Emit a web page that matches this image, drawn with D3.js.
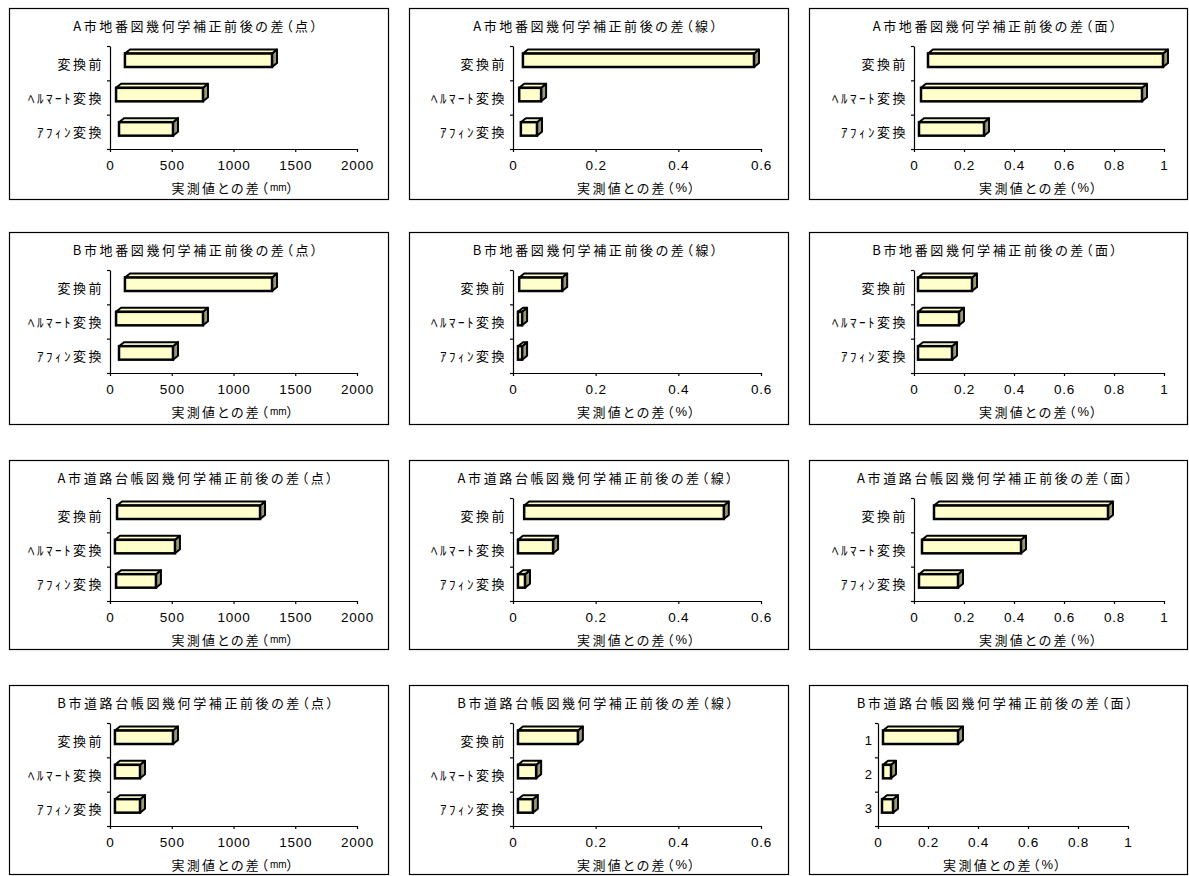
<!DOCTYPE html>
<html>
<head>
<meta charset="utf-8">
<script src="https://cdn.jsdelivr.net/npm/d3@7"></script>
<style>
  body { margin: 0; background: #fff; }
  svg text { fill: #000; }
</style>
</head>
<body>
<script>
// panel titles, row by row
const titles = [
  "A市地番図幾何学補正前後の差（点）", "A市地番図幾何学補正前後の差（線）", "A市地番図幾何学補正前後の差（面）",
  "B市地番図幾何学補正前後の差（点）", "B市地番図幾何学補正前後の差（線）", "B市地番図幾何学補正前後の差（面）",
  "A市道路台帳図幾何学補正前後の差（点）", "A市道路台帳図幾何学補正前後の差（線）", "A市道路台帳図幾何学補正前後の差（面）",
  "B市道路台帳図幾何学補正前後の差（点）", "B市道路台帳図幾何学補正前後の差（線）", "B市道路台帳図幾何学補正前後の差（面）"
];
const catLabels = ["変換前", "ﾍﾙﾏｰﾄ変換", "ｱﾌｨﾝ変換"];
const catNumbers = ["1", "2", "3"];
const axisTitleMm = ["実測値との差（", "mm", "）"];
const axisTitlePct = ["実測値との差（", "%", "）"];
const ticksPoint = [0, 500, 1000, 1500, 2000];
const ticksLine = [0, 0.2, 0.4, 0.6];
const ticksArea = [0, 0.2, 0.4, 0.6, 0.8, 1];

// where each 3D bar's front face starts and ends (as drawn)
const barStart = [
  [121, 49, 73], [0.024, 0.015, 0.019], [0.056, 0.028, 0.02],
  [121, 49, 73], [0.015, 0.012, 0.012], [0.016, 0.016, 0.016],
  [57, 40, 49], [0.027, 0.012, 0.012], [0.08, 0.032, 0.02],
  [40, 40, 40], [0.012, 0.012, 0.012], [0.02, 0.02, 0.016]
];
const barEnd = [
  [1312, 753, 510], [0.583, 0.068, 0.058], [0.996, 0.912, 0.28],
  [1312, 753, 510], [0.119, 0.022, 0.022], [0.232, 0.18, 0.152],
  [1215, 526, 372], [0.51, 0.097, 0.029], [0.776, 0.428, 0.176],
  [510, 243, 243], [0.157, 0.056, 0.048], [0.32, 0.052, 0.06]
];

var jp = "'Noto Sans CJK JP', sans-serif";
var num = "'Liberation Sans', Arial, sans-serif";

var colX = [9, 409, 809], colW = [379, 379, 378];
var rowY = [8, 232, 460, 685], rowH = [191, 192, 189, 189];
var axisLeft = [101, 104, 105], plotW = [247, 248, 250];
var colTicks = [ticksPoint, ticksLine, ticksArea];
var dx = 5, dy = 4;

var svg = d3.select("body").append("svg").attr("width", 1189).attr("height", 876);

titles.forEach((title, i) => {
  var r = Math.floor(i / 3), c = i % 3;
  var last = i === 11;
  var g = svg.append("g").attr("transform", `translate(${colX[c]},${rowY[r]})`);

  g.append("rect")
    .attr("x", 0.5).attr("y", 0.5)
    .attr("width", colW[c]).attr("height", rowH[r])
    .attr("fill", "#fff").attr("stroke", "#000").attr("stroke-width", 1.2);

  g.append("text")
    .attr("x", colW[c] / 2 - 2).attr("y", 17)
    .attr("text-anchor", "middle").attr("dominant-baseline", "central")
    .style("font-family", jp).style("font-size", "13px").style("letter-spacing", "2.6px")
    .style("font-feature-settings", "'palt'")
    .text(title);

  var left = last ? 69 : axisLeft[c];
  var top = 38, bottom = 141;
  var x = d3.scaleLinear().domain([0, d3.max(colTicks[c])]).range([left, left + plotW[c]]);
  var y = d3.scaleBand().domain([0, 1, 2]).range([top, bottom]);
  var yb = d3.scaleLinear().domain([0, 3]).range([top, bottom]);

  var xa = g.append("g").attr("transform", `translate(0,${bottom})`)
    .call(d3.axisBottom(x).tickValues(colTicks[c]).tickSize(3).tickSizeOuter(0).tickPadding(8).tickFormat(d => String(d)));
  xa.selectAll("text").style("font-family", num).style("font-size", "13.5px").style("letter-spacing", "0.8px");

  g.append("g").attr("transform", `translate(${left},0)`)
    .call(d3.axisLeft(yb).tickValues([0, 1, 2, 3]).tickSize(3).tickSizeOuter(0).tickFormat(""));
  g.selectAll(".domain, .tick line").attr("stroke", "#000").attr("stroke-width", 1.2);

  var labels = last ? catNumbers : catLabels;
  g.selectAll(".cat").data(labels).enter().append("text")
    .attr("class", "cat")
    .attr("x", left - 6)
    .attr("y", (d, k) => y(k) + y.bandwidth() / 2)
    .attr("text-anchor", "end").attr("dominant-baseline", "central")
    .style("font-family", last ? num : jp).style("font-size", "13px")
    .style("letter-spacing", last ? "0px" : "2.5px")
    .text(d => d);

  var parts = c === 0 ? axisTitleMm : axisTitlePct;
  var at = g.append("text")
    .attr("x", left + plotW[c] / 2).attr("y", 179)
    .attr("text-anchor", "middle").attr("dominant-baseline", "central")
    .style("font-family", jp).style("font-size", "13px").style("letter-spacing", "2.3px")
    .style("font-feature-settings", "'palt'");
  at.append("tspan").text(parts[0]);
  at.append("tspan")
    .style("font-family", num).style("font-size", c === 0 ? "10px" : "13px")
    .style("letter-spacing", c === 0 ? "0px" : "1px")
    .text(parts[1]);
  at.append("tspan").text(parts[2]);

  var bars = barStart[i].map((s, k) => ({ s: s, e: barEnd[i][k], k: k }));
  var bg = g.selectAll(".bar").data(bars).enter().append("g").attr("class", "bar");
  var fy = d => y(d.k) + 7.5;
  var fh = 13.5;

  bg.append("polygon")
    .attr("points", d => {
      var x1 = x(d.e), y0 = fy(d), y1 = y0 + fh;
      return [[x1, y0], [x1 + dx, y0 - dy], [x1 + dx, y1 - dy], [x1, y1]].join(" ");
    })
    .attr("fill", "#999977").attr("stroke", "#000").attr("stroke-width", 2).attr("stroke-linejoin", "round");

  bg.append("polygon")
    .attr("points", d => {
      var x0 = x(d.s), x1 = x(d.e), y0 = fy(d);
      return [[x0, y0], [x0 + dx, y0 - dy], [x1 + dx, y0 - dy], [x1, y0]].join(" ");
    })
    .attr("fill", "#ffffcc").attr("stroke", "#000").attr("stroke-width", 2).attr("stroke-linejoin", "round");

  bg.append("rect")
    .attr("x", d => x(d.s)).attr("y", fy)
    .attr("width", d => x(d.e) - x(d.s)).attr("height", fh)
    .attr("fill", "#ffffcc").attr("stroke", "#000").attr("stroke-width", 2.5);
});
</script>
</body>
</html>
